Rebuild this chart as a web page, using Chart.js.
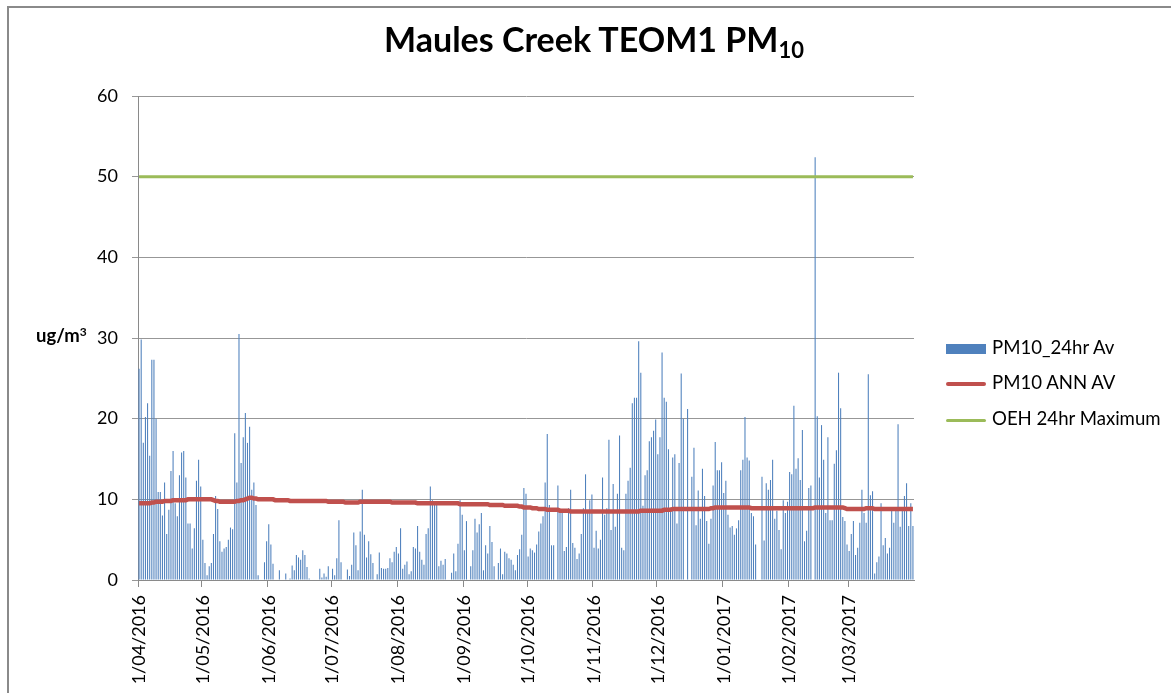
<!DOCTYPE html>
<html>
<head>
<meta charset="utf-8">
<script src="https://cdn.jsdelivr.net/npm/chart.js@4.4.1/dist/chart.umd.min.js"></script>
<style>
html,body{margin:0;padding:0;background:#fff;}
#wrap{position:relative;width:1171px;height:693px;overflow:hidden;font-family:Lato,"Open Sans",sans-serif;color:#000;}
#frame{position:absolute;left:7px;top:6px;width:1200px;height:700px;border-left:2px solid #8a8a8a;border-top:2px solid #8a8a8a;}
canvas{position:absolute;left:0;top:0;}
#title{position:absolute;left:594px;top:22px;transform:translateX(-50%);font-weight:bold;font-size:34px;white-space:nowrap;line-height:1;}
#title sub{font-size:22px;vertical-align:-6px;line-height:0;}
#ylab{position:absolute;left:36px;top:326px;font-weight:bold;font-size:18.5px;white-space:nowrap;line-height:1;}
#ylab sup{font-size:12px;vertical-align:6px;line-height:0;}
.lg{position:absolute;left:946px;height:24px;font-size:18.6px;white-space:nowrap;line-height:24px;}
.lg .sw{display:inline-block;width:40px;vertical-align:middle;margin-right:6px;}
</style>
</head>
<body>
<div id="wrap">
  <div id="frame"></div>
  <canvas id="c" width="1171" height="693"></canvas>
  <div id="title"></div>
  <div id="ylab">ug/m<sup>3</sup></div>
  <div id="legend"></div>
</div>
<script>
// ---------- data ----------
const titleMain = "Maules Creek TEOM1 PM";
const titleSub = "10";
const monthTickLabels = ["1/04/2016","1/05/2016","1/06/2016","1/07/2016","1/08/2016","1/09/2016","1/10/2016","1/11/2016","1/12/2016","1/01/2017","1/02/2017","1/03/2017"];
const yTicks = [0,10,20,30,40,50,60];

// daily PM10 24hr averages, 1/04/2016 .. 31/03/2017
const pm10Daily = [
26.2,29.8,17.0,20.2,21.9,15.4,27.3,27.3,20.0,10.9,
10.9,8.0,12.1,5.7,8.7,13.5,16.0,9.5,7.9,13.0,
15.8,16.0,12.7,7.0,7.0,3.9,6.4,12.3,14.9,11.6,
5.0,2.1,0.6,1.7,2.1,5.7,10.4,8.8,4.8,3.5,
3.9,4.1,5.0,6.5,6.3,18.2,12.1,30.5,14.5,17.7,
20.7,17.0,19.0,11.2,12.1,9.3,0.6,0,0,2.2,
4.8,6.9,4.4,2.0,0,0,1.2,0,0,0.8,
0,0.2,1.8,1.2,3.1,2.8,2.5,3.7,3.1,1.6,
0.2,0,0,0,0,1.4,0.3,0.8,0.4,1.7,
0,1.4,0.6,2.7,7.4,2.2,0,0,1.3,0.5,
1.9,5.9,4.3,1.2,6.0,11.2,5.6,2.8,4.8,3.2,
2.1,0,0.7,3.4,1.5,1.4,1.4,1.5,2.7,2.2,
3.5,4.1,3.3,6.4,1.4,1.9,2.3,0.7,1.1,4.1,
3.9,6.7,3.5,2.5,1.9,5.7,6.4,11.6,9.9,9.3,
9.3,1.7,2.4,1.9,2.6,0,0,0.9,3.3,1.1,
4.5,9.9,8.1,3.7,7.3,0,1.7,3.7,7.6,5.9,
6.9,8.3,1.2,4.3,3.3,6.7,4.7,1.7,0,2.1,
3.9,0.7,3.5,3.3,2.7,2.5,1.9,1.2,3.1,3.8,
5.6,11.4,10.7,2.9,3.9,3.7,3.4,4.4,6.0,7.0,
7.9,12.1,18.1,9.3,4.3,4.3,0,11.7,8.5,8.5,
3.6,4.1,8.9,11.2,4.6,4.0,2.6,3.3,5.7,8.9,
13.1,8.5,9.9,10.6,4.0,6.1,3.9,5.0,12.7,8.1,
8.9,17.4,6.2,11.9,6.6,10.7,17.9,4.0,3.7,10.7,
12.3,13.9,21.9,22.6,22.6,29.6,25.7,9.2,13.0,13.6,
17.2,17.7,18.5,19.9,15.6,17.7,28.2,22.6,22.1,16.2,
9.0,15.2,15.6,7.0,14.5,25.6,20.0,0,21.2,0,
12.8,16.4,6.8,11.1,7.6,13.8,10.4,7.3,4.5,7.6,
11.7,17.1,13.6,13.6,14.6,10.8,12.3,8.1,6.5,6.7,
5.6,6.4,7.4,13.6,14.9,20.2,15.2,14.8,8.3,7.9,
4.4,0,0,12.8,4.9,12.0,11.2,12.4,14.9,7.6,
8.6,6.2,3.8,9.9,8.3,9.7,13.4,13.1,21.6,13.8,
15.1,12.4,18.6,4.8,6.1,11.4,11.7,0,52.4,20.3,
12.7,19.2,14.9,8.3,17.7,7.4,7.4,14.4,16.1,25.7,
21.3,7.8,7.3,4.4,3.6,5.7,7.3,3.1,4.0,7.1,
11.2,8.3,7.1,25.5,10.5,11.0,0.8,2.2,2.9,9.5,
4.3,5.2,3.3,4.0,8.6,7.1,8.6,19.3,6.6,8.7,
10.4,12.0,6.7,9.5,6.7
];

// rolling annual average
const pm10AnnAv = [
9.5,9.5,9.5,9.5,9.5,9.5,9.6,9.6,9.7,9.7,
9.7,9.7,9.8,9.8,9.8,9.8,9.9,9.9,9.9,9.9,
9.9,9.9,9.9,10.0,10.0,10.0,10.0,10.0,10.0,10.0,
10.0,10.0,10.0,10.0,10.0,9.9,9.8,9.8,9.7,9.7,
9.7,9.7,9.7,9.7,9.7,9.7,9.8,9.8,9.9,9.9,
10.0,10.1,10.2,10.2,10.1,10.1,10.0,10.0,10.0,10.0,
10.0,10.0,10.0,10.0,9.9,9.9,9.9,9.9,9.9,9.9,
9.9,9.8,9.8,9.8,9.8,9.8,9.8,9.8,9.8,9.8,
9.8,9.8,9.8,9.8,9.8,9.8,9.8,9.8,9.8,9.7,
9.7,9.7,9.7,9.7,9.7,9.7,9.7,9.6,9.6,9.6,
9.6,9.6,9.6,9.6,9.7,9.7,9.7,9.7,9.7,9.7,
9.7,9.7,9.7,9.7,9.7,9.7,9.7,9.7,9.7,9.6,
9.6,9.6,9.6,9.6,9.6,9.6,9.6,9.6,9.6,9.6,
9.6,9.5,9.5,9.5,9.5,9.5,9.5,9.5,9.5,9.5,
9.5,9.5,9.5,9.5,9.5,9.5,9.5,9.5,9.5,9.5,
9.5,9.4,9.4,9.4,9.4,9.4,9.4,9.4,9.4,9.4,
9.4,9.4,9.4,9.4,9.4,9.3,9.3,9.3,9.3,9.3,
9.3,9.3,9.2,9.2,9.2,9.2,9.2,9.2,9.2,9.1,
9.1,9.0,9.0,9.0,9.0,8.9,8.9,8.9,8.8,8.8,
8.8,8.8,8.7,8.7,8.7,8.7,8.7,8.7,8.6,8.6,
8.6,8.6,8.6,8.5,8.5,8.5,8.5,8.5,8.5,8.5,
8.5,8.5,8.5,8.5,8.5,8.5,8.5,8.5,8.5,8.5,
8.5,8.5,8.5,8.5,8.5,8.5,8.5,8.5,8.5,8.5,
8.5,8.5,8.5,8.5,8.5,8.5,8.6,8.6,8.6,8.6,
8.6,8.6,8.6,8.6,8.6,8.6,8.6,8.7,8.7,8.7,
8.7,8.8,8.8,8.8,8.8,8.8,8.8,8.8,8.8,8.8,
8.8,8.8,8.8,8.8,8.8,8.8,8.8,8.8,8.8,8.9,
8.9,9.0,9.0,9.0,9.0,9.0,9.0,9.0,9.0,9.0,
9.0,9.0,9.0,9.0,9.0,9.0,9.0,9.0,8.9,8.9,
8.9,8.9,8.9,8.9,8.9,8.9,8.9,8.9,8.9,8.9,
8.9,8.9,8.9,8.9,8.9,8.9,8.9,8.9,8.9,8.9,
8.9,8.9,8.9,8.9,8.9,8.9,8.9,8.9,9.0,9.0,
9.0,9.0,9.0,9.0,9.0,9.0,9.0,9.0,9.0,9.0,
9.0,9.0,8.9,8.8,8.8,8.8,8.8,8.8,8.8,8.8,
8.8,8.8,8.9,8.9,8.9,8.9,8.8,8.8,8.8,8.8,
8.8,8.8,8.8,8.8,8.8,8.8,8.8,8.8,8.8,8.8,
8.8,8.8,8.8,8.8,8.8
];

// OEH 24hr maximum (constant guideline), from first to last day
const oehDates = ["1/04/2016","31/03/2017"];
const oehMaximum = [50,50];

const seriesNames = ["PM10_24hr Av","PM10 ANN AV","OEH 24hr Maximum"];
const seriesColors = ["#4F81BD","#C0504D","#9BBB59"];

// ---------- category labels (one per day) ----------
const dayLabels = [];
for (let i = 0; i < pm10Daily.length; i++) {
  const d = new Date(2016, 3, 1 + i, 12);
  dayLabels.push(d.getDate() + "/" + String(d.getMonth() + 1).padStart(2, "0") + "/" + d.getFullYear());
}

// ---------- html text ----------
document.getElementById("title").innerHTML = titleMain + "<sub>" + titleSub + "</sub>";
const legendDiv = document.getElementById("legend");
const lgTops = [335, 370, 406];
const swH = [10, 4, 3];
seriesNames.forEach((n, i) => {
  const el = document.createElement("div");
  el.className = "lg";
  el.style.top = lgTops[i] + "px";
  el.innerHTML = '<span class="sw" style="height:' + swH[i] + 'px;background:' + seriesColors[i] + ';' + (i ? 'border-radius:2px;' : '') + '"></span>' + n;
  legendDiv.appendChild(el);
});

// ---------- chart ----------
const monthSet = new Set(monthTickLabels);
new Chart(document.getElementById("c"), {
  data: {
    labels: dayLabels,
    datasets: [
      {
        type: "line", label: seriesNames[1], data: pm10AnnAv,
        borderColor: seriesColors[1], borderWidth: 4.5, pointRadius: 0, tension: 0, order: 1
      },
      {
        type: "line", label: seriesNames[2],
        data: oehDates.map((d, i) => ({ x: d, y: oehMaximum[i] })),
        borderColor: seriesColors[2], borderWidth: 3, pointRadius: 0, order: 2
      },
      {
        type: "bar", label: seriesNames[0], data: pm10Daily,
        backgroundColor: seriesColors[0], borderWidth: 0,
        barPercentage: 0.5, categoryPercentage: 1.0, order: 3
      }
    ]
  },
  options: {
    responsive: false,
    animation: false,
    devicePixelRatio: 1,
    layout: { padding: { left: 0, right: 257, top: 96, bottom: 0 } },
    plugins: { legend: { display: false }, title: { display: false }, tooltip: { enabled: false } },
    scales: {
      x: {
        type: "category",
        afterFit: (s) => { s.height = 113; },
        grid: {
          drawOnChartArea: false, drawTicks: true, tickLength: 7,
          color: (ctx) => (ctx.tick && monthSet.has(ctx.tick.label) ? "#8a8a8a" : "rgba(0,0,0,0)")
        },
        border: { display: true, color: "#8a8a8a", width: 1 },
        ticks: {
          autoSkip: false, minRotation: 90, maxRotation: 90, padding: 8,
          color: "#000", font: { family: "Lato", size: 18 },
          callback: function (v, i) { const l = dayLabels[i]; return monthSet.has(l) ? l : ""; }
        }
      },
      y: {
        min: 0, max: 60,
        afterFit: (s) => { s.width = 138; },
        afterBuildTicks: (s) => { s.ticks = yTicks.map(v => ({ value: v })); },
        grid: { color: "#979797", lineWidth: 1, drawTicks: true, tickLength: 6 },
        border: { display: true, color: "#8a8a8a", width: 1 },
        ticks: { padding: 14, color: "#000", font: { family: "Lato", size: 18 } }
      }
    }
  }
});
</script>
</body>
</html>
